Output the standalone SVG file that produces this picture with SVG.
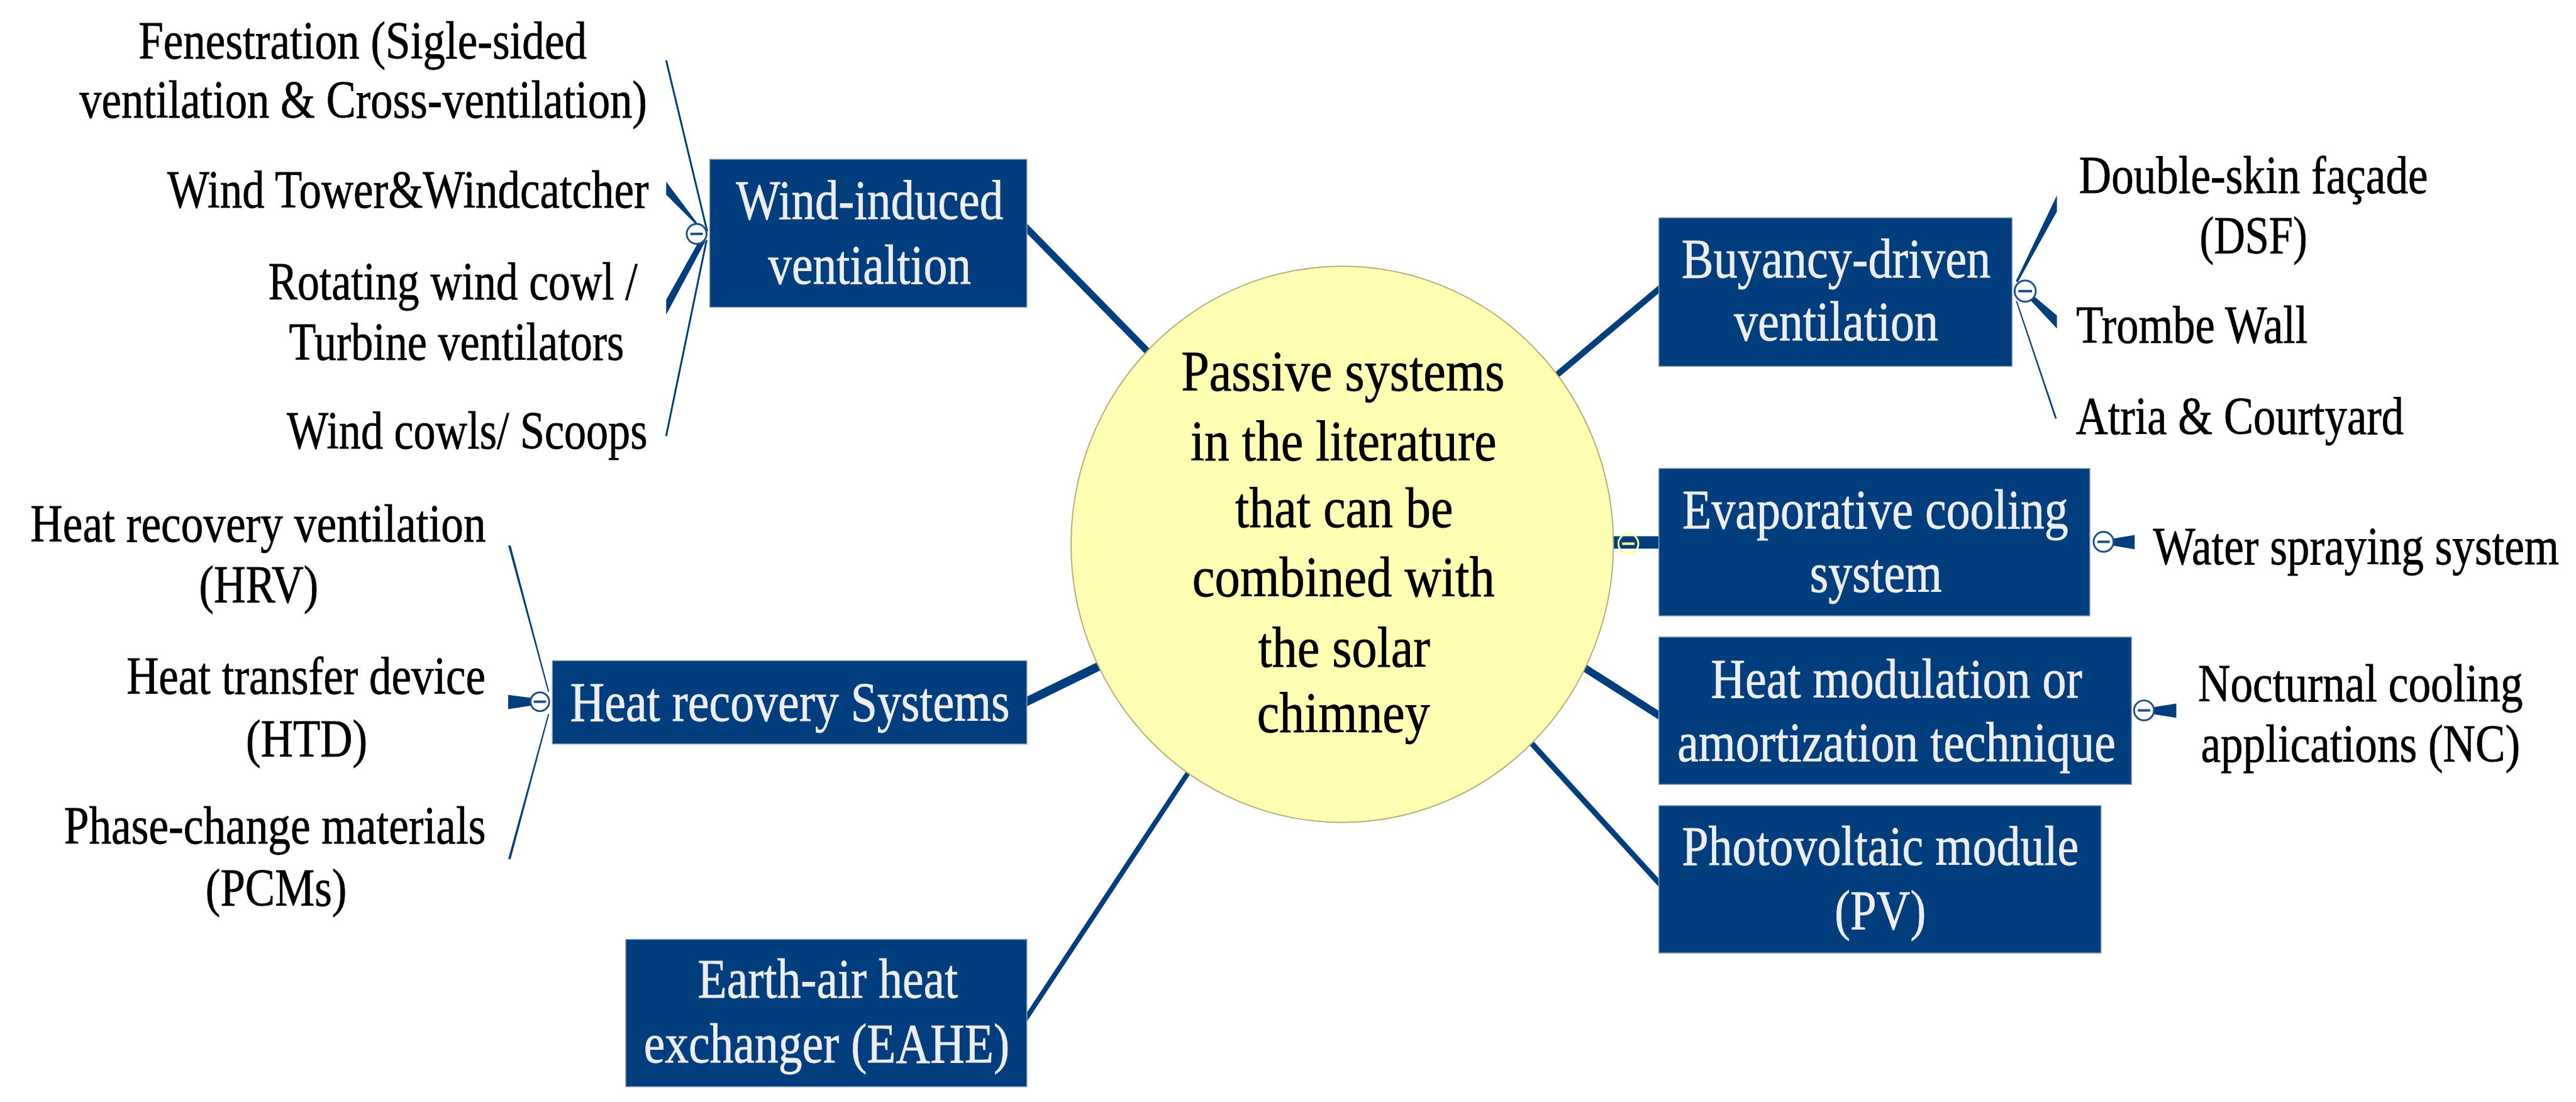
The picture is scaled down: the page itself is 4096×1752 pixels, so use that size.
<svg xmlns="http://www.w3.org/2000/svg" width="4096" height="1752" viewBox="0 0 4096 1752">
<style>
.box{fill:#023E7D;stroke:#8FA3BD;stroke-width:1.5}
text{font-family:"Liberation Serif","Times New Roman","DejaVu Serif",serif;text-anchor:middle}
.bt{font-size:90px;fill:#EDEDED;stroke:#EDEDED;stroke-width:0.8}
.lt{font-size:86px;fill:#000;stroke:#000;stroke-width:0.8}
.ct{font-size:92px;fill:#000;stroke:#000;stroke-width:0.8}
.main{stroke:#023E7D;stroke-linecap:butt;fill:none}
.thin{stroke:#023E7D;stroke-width:3;fill:none}
.wedge{fill:#023E7D}
.tog{fill:#fff;stroke:#1F4F8A;stroke-width:3}
.togm{stroke:#1F4F8A;stroke-width:4}
.togy{fill:none;stroke:#FFFF99;stroke-width:3}
</style>
<rect width="4096" height="1752" fill="#fff"/>
<g transform="scale(0.989)">
<g id="connectors">
<line class="main" x1="1640" y1="356" x2="1850" y2="570" stroke-width="11"/>
<line class="main" x1="1640" y1="1133" x2="1775" y2="1067" stroke-width="14"/>
<line class="main" x1="1645" y1="1644" x2="1915" y2="1235" stroke-width="8"/>
<line class="main" x1="2498" y1="607" x2="2675" y2="458" stroke-width="10"/>
<line class="main" x1="2590" y1="872" x2="2675" y2="872" stroke-width="20"/>
<line class="main" x1="2545" y1="1072" x2="2675" y2="1155" stroke-width="12"/>
<line class="main" x1="2458" y1="1190" x2="2675" y2="1428" stroke-width="9"/>
<line class="thin" x1="1137" y1="372" x2="1071" y2="97"/>
<polygon class="wedge" points="1128,368 1134,376 1071,313 1071,292"/>
<polygon class="wedge" points="1128,380 1134,388 1071,506 1071,482"/>
<line class="thin" x1="1136" y1="386" x2="1071" y2="701"/>
<polygon class="wedge" points="883,1112 881,1112 817,877 821,877"/>
<polygon class="wedge" points="856,1122 856,1134 817,1140 817,1117"/>
<polygon class="wedge" points="883,1148 881,1148 817,1381 821,1381"/>
<polygon class="wedge" points="3241,452 3244,454 3307,340 3307,314"/>
<polygon class="wedge" points="3262,480 3270,476 3307,507 3307,528"/>
<polygon class="wedge" points="3241,484 3243,484 3307,673 3304,673"/>
<polygon class="wedge" points="3396,866 3396,877 3432,883 3432,860"/>
<polygon class="wedge" points="3461,1137 3461,1148 3499,1154 3499,1131"/>
</g>
<g id="center">
<ellipse cx="2158" cy="875" rx="436" ry="447" fill="#FFFFB3" stroke="#B5AE7A" stroke-width="2"/>
<text class="ct" transform="translate(2159 628) scale(0.82 1)" textLength="634" lengthAdjust="spacingAndGlyphs">Passive systems</text>
<text class="ct" transform="translate(2160 740) scale(0.82 1)" textLength="600" lengthAdjust="spacingAndGlyphs">in the literature</text>
<text class="ct" transform="translate(2161 847) scale(0.82 1)" textLength="427" lengthAdjust="spacingAndGlyphs">that can be</text>
<text class="ct" transform="translate(2160 959) scale(0.82 1)" textLength="593" lengthAdjust="spacingAndGlyphs">combined with</text>
<text class="ct" transform="translate(2161 1072) scale(0.82 1)" textLength="337" lengthAdjust="spacingAndGlyphs">the solar</text>
<text class="ct" transform="translate(2160 1177) scale(0.82 1)" textLength="339" lengthAdjust="spacingAndGlyphs">chimney</text>
<circle class="togy" cx="2618" cy="874" r="16"/>
<line x1="2608" y1="874" x2="2628" y2="874" stroke="#FFFF99" stroke-width="4"/>
</g>
<g id="wind-induced">
<rect class="box" x="1141" y="256" width="510" height="238"/>
<text class="bt" transform="translate(1398 352) scale(0.82 1)" textLength="524" lengthAdjust="spacingAndGlyphs">Wind-induced</text>
<text class="bt" transform="translate(1398 456) scale(0.82 1)" textLength="398" lengthAdjust="spacingAndGlyphs">ventialtion</text>
<circle class="tog" cx="1120" cy="376" r="16"/>
<line class="togm" x1="1110" y1="376" x2="1130" y2="376"/>
</g>
<g id="wind-leaves">
<text class="lt" transform="translate(583 94) scale(0.82 1)" textLength="879" lengthAdjust="spacingAndGlyphs">Fenestration (Sigle-sided</text>
<text class="lt" transform="translate(584 189) scale(0.82 1)" textLength="1113" lengthAdjust="spacingAndGlyphs">ventilation &amp; Cross-ventilation)</text>
<text class="lt" transform="translate(656 334) scale(0.82 1)" textLength="944" lengthAdjust="spacingAndGlyphs">Wind Tower&amp;Windcatcher</text>
<text class="lt" transform="translate(728 481) scale(0.82 1)" textLength="724" lengthAdjust="spacingAndGlyphs">Rotating wind cowl /</text>
<text class="lt" transform="translate(734 578) scale(0.82 1)" textLength="657" lengthAdjust="spacingAndGlyphs">Turbine ventilators</text>
<text class="lt" transform="translate(751 721) scale(0.82 1)" textLength="707" lengthAdjust="spacingAndGlyphs">Wind cowls/ Scoops</text>
</g>
<g id="heat-recovery">
<rect class="box" x="888" y="1062" width="763" height="134"/>
<text class="bt" transform="translate(1270 1159) scale(0.82 1)" textLength="862" lengthAdjust="spacingAndGlyphs">Heat recovery Systems</text>
<circle class="tog" cx="868" cy="1128" r="15"/>
<line class="togm" x1="858" y1="1128" x2="878" y2="1128"/>
</g>
<g id="heat-recovery-leaves">
<text class="lt" transform="translate(415 871) scale(0.82 1)" textLength="893" lengthAdjust="spacingAndGlyphs">Heat recovery ventilation</text>
<text class="lt" transform="translate(416 969) scale(0.82 1)" textLength="234" lengthAdjust="spacingAndGlyphs">(HRV)</text>
<text class="lt" transform="translate(492 1115) scale(0.82 1)" textLength="704" lengthAdjust="spacingAndGlyphs">Heat transfer device</text>
<text class="lt" transform="translate(493 1216) scale(0.82 1)" textLength="238" lengthAdjust="spacingAndGlyphs">(HTD)</text>
<text class="lt" transform="translate(442 1356) scale(0.82 1)" textLength="827" lengthAdjust="spacingAndGlyphs">Phase-change materials</text>
<text class="lt" transform="translate(444 1456) scale(0.82 1)" textLength="277" lengthAdjust="spacingAndGlyphs">(PCMs)</text>
</g>
<g id="earth-air">
<rect class="box" x="1006" y="1510" width="645" height="237"/>
<text class="bt" transform="translate(1331 1604) scale(0.82 1)" textLength="510" lengthAdjust="spacingAndGlyphs">Earth-air heat</text>
<text class="bt" transform="translate(1329 1708) scale(0.82 1)" textLength="717" lengthAdjust="spacingAndGlyphs">exchanger (EAHE)</text>
</g>
<g id="buoyancy">
<rect class="box" x="2667" y="350" width="568" height="239"/>
<text class="bt" transform="translate(2952 446) scale(0.82 1)" textLength="606" lengthAdjust="spacingAndGlyphs">Buyancy-driven</text>
<text class="bt" transform="translate(2952 547) scale(0.82 1)" textLength="401" lengthAdjust="spacingAndGlyphs">ventilation</text>
<circle class="tog" cx="3256" cy="468" r="17"/>
<line class="togm" x1="3245" y1="468" x2="3267" y2="468"/>
</g>
<g id="buoyancy-leaves">
<text class="lt" transform="translate(3623 310) scale(0.82 1)" textLength="684" lengthAdjust="spacingAndGlyphs">Double-skin façade</text>
<text class="lt" transform="translate(3623 407) scale(0.82 1)" textLength="211" lengthAdjust="spacingAndGlyphs">(DSF)</text>
<text class="lt" transform="translate(3524 551) scale(0.82 1)" textLength="454" lengthAdjust="spacingAndGlyphs">Trombe Wall</text>
<text class="lt" transform="translate(3601 698) scale(0.82 1)" textLength="643" lengthAdjust="spacingAndGlyphs">Atria &amp; Courtyard</text>
</g>
<g id="evaporative">
<rect class="box" x="2667" y="753" width="693" height="237"/>
<text class="bt" transform="translate(3015 849) scale(0.82 1)" textLength="757" lengthAdjust="spacingAndGlyphs">Evaporative cooling</text>
<text class="bt" transform="translate(3016 951) scale(0.82 1)" textLength="259" lengthAdjust="spacingAndGlyphs">system</text>
<circle class="tog" cx="3382" cy="871" r="16"/>
<line class="togm" x1="3372" y1="871" x2="3392" y2="871"/>
</g>
<g id="evaporative-leaf">
<text class="lt" transform="translate(3788 907) scale(0.82 1)" textLength="796" lengthAdjust="spacingAndGlyphs">Water spraying system</text>
</g>
<g id="heat-modulation">
<rect class="box" x="2667" y="1024" width="760" height="237"/>
<text class="bt" transform="translate(3049 1121) scale(0.82 1)" textLength="728" lengthAdjust="spacingAndGlyphs">Heat modulation or</text>
<text class="bt" transform="translate(3049 1223) scale(0.82 1)" textLength="859" lengthAdjust="spacingAndGlyphs">amortization technique</text>
<circle class="tog" cx="3447" cy="1142" r="16"/>
<line class="togm" x1="3437" y1="1142" x2="3457" y2="1142"/>
</g>
<g id="heat-modulation-leaf">
<text class="lt" transform="translate(3795 1127) scale(0.82 1)" textLength="637" lengthAdjust="spacingAndGlyphs">Nocturnal cooling</text>
<text class="lt" transform="translate(3795 1224) scale(0.82 1)" textLength="626" lengthAdjust="spacingAndGlyphs">applications (NC)</text>
</g>
<g id="photovoltaic">
<rect class="box" x="2667" y="1295" width="711" height="237"/>
<text class="bt" transform="translate(3023 1390) scale(0.82 1)" textLength="778" lengthAdjust="spacingAndGlyphs">Photovoltaic module</text>
<text class="bt" transform="translate(3023 1493) scale(0.82 1)" textLength="179" lengthAdjust="spacingAndGlyphs">(PV)</text>
</g>
</g>
</svg>
